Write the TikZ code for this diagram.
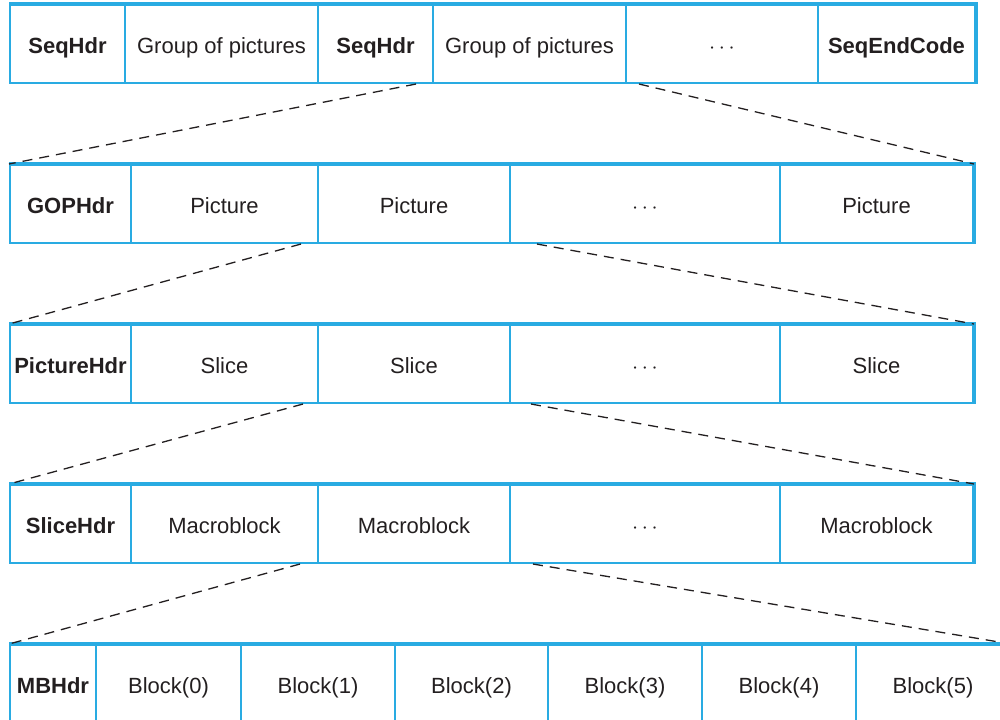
\documentclass[tikz,border=0pt]{standalone}
\usepackage{fontspec}
\setmainfont{Liberation Sans}

\definecolor{rowblue}{RGB}{41,171,226}
\definecolor{ink}{RGB}{35,31,32}

% one row of cells: \cellrow{name}{top}{left/right/text,...}
\newcommand{\cellrow}[3]{%
  \foreach \a/\b/\t [count=\i] in {#3}
    \node[cell, minimum width={(\b-\a)*0.5pt}] (#1-\i) at ({(\a+\b)/2},{#2+39}) {\t};
}

\begin{document}
\begin{tikzpicture}[x=0.5pt, y=-0.5pt,
    cell/.style={draw=rowblue, line width=1pt, minimum height=39pt, inner sep=0pt,
      text height=9.4pt, text depth=0pt, text=ink, font=\fontsize{11}{13}\selectfont},
    rim/.style={draw=rowblue, line width=2.2pt, line join=miter},
    link/.style={ink, line width=0.65pt, dash pattern=on 5pt off 3.5pt}]
    \useasboundingbox (0,0) rectangle (1000,719);
    \clip (0,0) rectangle (1000,719);

    % sequence
    \cellrow{seq}{5}{10/125/\textbf{SeqHdr}, 125/318/Group of pictures, 318/433/\textbf{SeqHdr},
      433/626/Group of pictures, 626/818/$\cdots$, 818/975/\textbf{SeqEndCode}}
    \draw[rim] (seq-1.north west) -- (seq-6.north east) -- (seq-6.south east);

    % group of pictures
    \cellrow{gop}{165}{10/131/\textbf{GOPHdr}, 131/318/Picture, 318/510/Picture,
      510/780/$\cdots$, 780/973/Picture}
    \draw[rim] (gop-1.north west) -- (gop-5.north east) -- (gop-5.south east);

    % picture
    \cellrow{pic}{325}{10/131/\textbf{PictureHdr}, 131/318/Slice, 318/510/Slice,
      510/780/$\cdots$, 780/973/Slice}
    \draw[rim] (pic-1.north west) -- (pic-5.north east) -- (pic-5.south east);

    % slice
    \cellrow{slc}{485}{10/131/\textbf{SliceHdr}, 131/318/Macroblock, 318/510/Macroblock,
      510/780/$\cdots$, 780/973/Macroblock}
    \draw[rim] (slc-1.north west) -- (slc-5.north east) -- (slc-5.south east);

    % macroblock
    \cellrow{mb}{645}{10/96/\textbf{MBHdr}, 96/241/Block(0), 241/395/Block(1), 395/548/Block(2),
      548/702/Block(3), 702/856/Block(4), 856/1010/Block(5)}
    \draw[rim] (mb-1.north west) -- (mb-7.north east);

    % zoom lines
    \draw[link] ([xshift=-9pt]seq-3.south east) -- (gop-1.north west);
    \draw[link] ([xshift=6pt]seq-4.south east) -- (gop-5.north east);
    \draw[link] ([xshift=-8pt]gop-3.south west) -- (pic-1.north west);
    \draw[link] ([xshift=13pt]gop-3.south east) -- (pic-5.north east);
    \draw[link] ([xshift=-7pt]pic-3.south west) -- (slc-1.north west);
    \draw[link] ([xshift=10pt]pic-3.south east) -- (slc-5.north east);
    \draw[link] ([xshift=-8.5pt]slc-3.south west) -- (mb-1.north west);
    \draw[link] ([xshift=11pt]slc-3.south east) -- (mb-7.north east);
\end{tikzpicture}
\end{document}
